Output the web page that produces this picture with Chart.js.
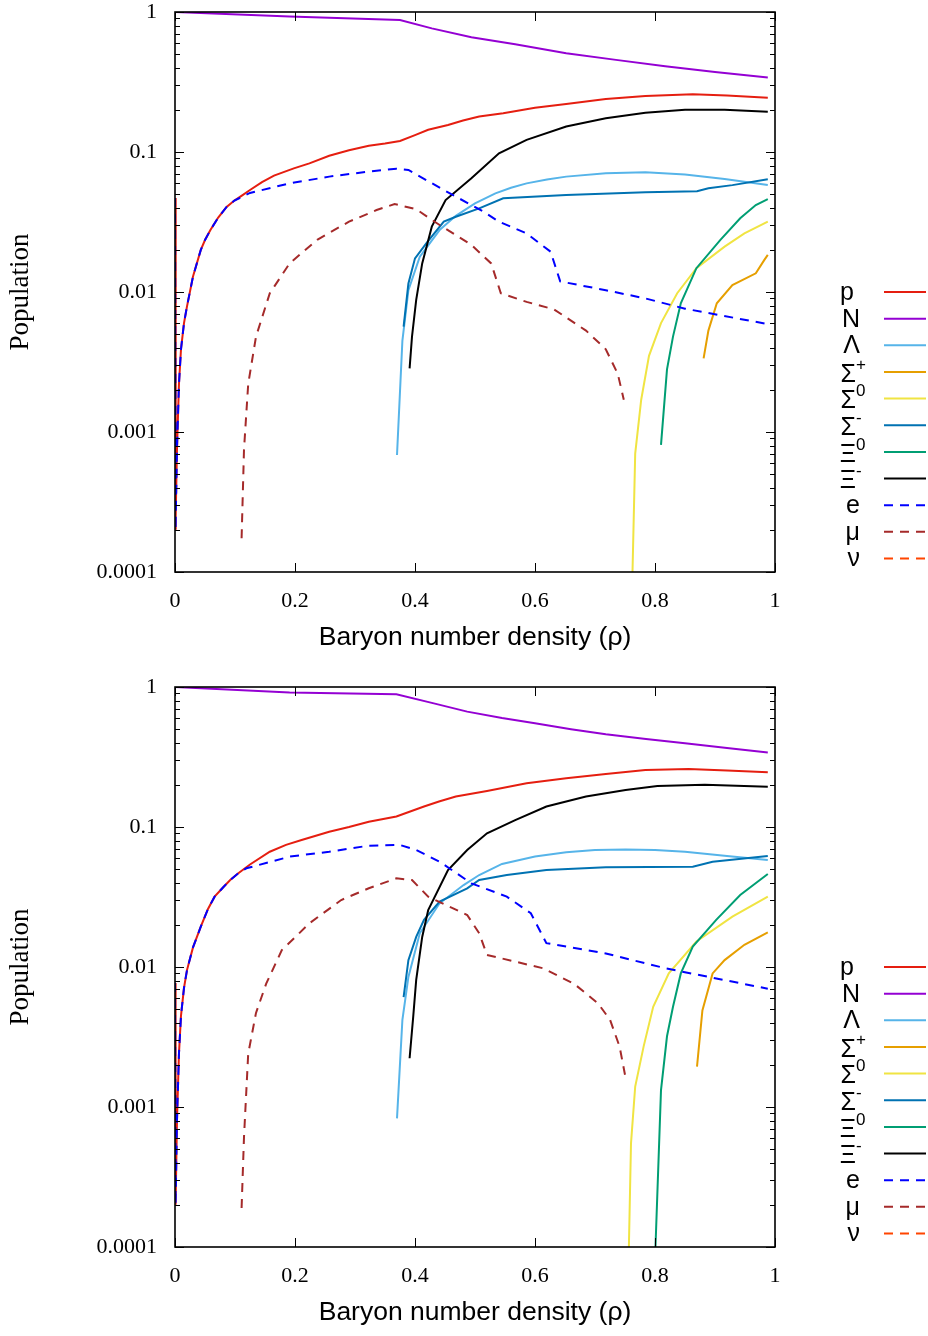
<!DOCTYPE html>
<html><head><meta charset="utf-8">
<script src="https://cdn.jsdelivr.net/npm/chart.js@4/dist/chart.umd.min.js"></script>
<style>html,body{margin:0;padding:0;background:#fff;}canvas{display:block;}</style>
</head><body>
<canvas id="c1" width="928" height="675"></canvas>
<canvas id="c2" width="928" height="661"></canvas>
<script>
// ---------- labels / ticks ----------
const seriesLabels = ['p','N','Λ','Σ⁺','Σ⁰','Σ⁻','Ξ⁰','Ξ⁻','e','μ','ν'];
const xTicks = [0,0.2,0.4,0.6,0.8,1];
const xTickLabels = ['0','0.2','0.4','0.6','0.8','1'];
const yTicks = [0.0001,0.001,0.01,0.1,1];
const yTickLabels = ['0.0001','0.001','0.01','0.1','1'];
const xTitle = 'Baryon number density (ρ)';
const yTitle = 'Population';

// ---------- top panel data [x, population] ----------
const topP   = [[0,0.047],[0.001,0.0002],[0.0013,0.00025],[0.0033,0.00075],[0.0066,0.0022],[0.01,0.0039],[0.015,0.006],[0.02,0.0079],[0.03,0.0129],[0.043,0.02],[0.05,0.0235],[0.059,0.0277],[0.072,0.034],[0.086,0.0405],[0.099,0.045],[0.112,0.049],[0.125,0.0535],[0.145,0.061],[0.165,0.0678],[0.198,0.0764],[0.224,0.083],[0.257,0.094],[0.29,0.103],[0.323,0.111],[0.35,0.115],[0.375,0.12],[0.4,0.132],[0.422,0.144],[0.455,0.156],[0.48,0.168],[0.507,0.179],[0.547,0.189],[0.6,0.207],[0.652,0.22],[0.718,0.239],[0.784,0.251],[0.863,0.258],[0.92,0.253],[0.988,0.244]];
const topN   = [[0,1],[0.191,0.927],[0.375,0.877],[0.428,0.764],[0.494,0.66],[0.567,0.588],[0.652,0.507],[0.735,0.455],[0.817,0.41],[0.9,0.373],[0.988,0.341]];
const topLam = [[0.37,0.000685],[0.379,0.0045],[0.389,0.0103],[0.408,0.0179],[0.441,0.0277],[0.468,0.035],[0.5,0.043],[0.534,0.0507],[0.56,0.0555],[0.586,0.0597],[0.62,0.0637],[0.652,0.0667],[0.718,0.0705],[0.784,0.0716],[0.85,0.0692],[0.916,0.0641],[0.988,0.0581]];
const topSp  = [[0.881,0.00336],[0.889,0.0053],[0.903,0.0083],[0.929,0.0112],[0.968,0.0136],[0.982,0.0169],[0.988,0.0184]];
const topS0  = [[0.762,0.00008],[0.767,0.0007],[0.777,0.0017],[0.79,0.0035],[0.81,0.006],[0.837,0.0098],[0.869,0.0148],[0.916,0.0211],[0.949,0.0262],[0.988,0.0318]];
const topSm  = [[0.381,0.00565],[0.389,0.0115],[0.4,0.0174],[0.421,0.0229],[0.448,0.0318],[0.468,0.0345],[0.507,0.0396],[0.547,0.0467],[0.652,0.0493],[0.784,0.0515],[0.87,0.0524],[0.889,0.055],[0.929,0.058],[0.988,0.0638]];
const topX0  = [[0.81,0.00081],[0.82,0.0028],[0.83,0.0048],[0.843,0.0083],[0.869,0.0148],[0.909,0.0236],[0.942,0.0336],[0.968,0.0418],[0.988,0.046]];
const topXm  = [[0.391,0.00285],[0.395,0.0048],[0.402,0.0088],[0.412,0.016],[0.428,0.0293],[0.451,0.0454],[0.494,0.0649],[0.54,0.098],[0.586,0.122],[0.652,0.152],[0.718,0.174],[0.784,0.191],[0.85,0.2],[0.916,0.2],[0.988,0.194]];
const topE   = [[0,0.047],[0.001,0.0002],[0.0013,0.00025],[0.0033,0.00075],[0.0066,0.0022],[0.01,0.0039],[0.015,0.006],[0.02,0.0079],[0.03,0.0129],[0.043,0.02],[0.05,0.0235],[0.059,0.0277],[0.072,0.034],[0.086,0.0405],[0.099,0.045],[0.125,0.051],[0.191,0.0597],[0.257,0.0667],[0.323,0.0724],[0.369,0.076],[0.389,0.0744],[0.448,0.0535],[0.514,0.0375],[0.54,0.0318],[0.586,0.0262],[0.626,0.0194],[0.642,0.0119],[0.718,0.0103],[0.784,0.009],[0.85,0.0076],[0.988,0.0059]];
const topMu  = [[0.111,0.000174],[0.115,0.00075],[0.122,0.0022],[0.135,0.0048],[0.158,0.0098],[0.191,0.016],[0.237,0.0236],[0.29,0.0318],[0.336,0.0385],[0.366,0.0425],[0.402,0.039],[0.441,0.0301],[0.494,0.0217],[0.527,0.016],[0.543,0.0098],[0.586,0.0085],[0.632,0.0075],[0.685,0.0053],[0.718,0.0039],[0.738,0.0026],[0.748,0.0017]];
const topNu  = [];

// ---------- bottom panel data [x, population] ----------
const botP   = [[0,0.0077],[0.001,0.0002],[0.0033,0.0008],[0.0066,0.0024],[0.01,0.0045],[0.015,0.0071],[0.02,0.0095],[0.03,0.0138],[0.043,0.0194],[0.055,0.026],[0.066,0.0318],[0.08,0.037],[0.092,0.0418],[0.105,0.0465],[0.125,0.054],[0.158,0.0666],[0.185,0.0745],[0.211,0.0807],[0.257,0.0926],[0.29,0.1],[0.323,0.109],[0.369,0.119],[0.415,0.14],[0.44,0.152],[0.468,0.165],[0.52,0.181],[0.586,0.205],[0.652,0.223],[0.718,0.239],[0.784,0.255],[0.856,0.26],[0.92,0.253],[0.988,0.246]];
const botN   = [[0,1],[0.191,0.912],[0.369,0.887],[0.428,0.77],[0.487,0.667],[0.545,0.6],[0.6,0.55],[0.66,0.5],[0.718,0.459],[0.785,0.425],[0.85,0.396],[0.92,0.366],[0.988,0.341]];
const botLam = [[0.37,0.00083],[0.379,0.0042],[0.389,0.0085],[0.408,0.0174],[0.441,0.0285],[0.481,0.0385],[0.507,0.0454],[0.545,0.0545],[0.6,0.0615],[0.652,0.066],[0.7,0.0685],[0.751,0.069],[0.8,0.0685],[0.85,0.0666],[0.92,0.062],[0.988,0.0581]];
const botSp  = [[0.87,0.00194],[0.879,0.0049],[0.896,0.009],[0.916,0.0112],[0.949,0.0144],[0.988,0.0177]];
const botS0  = [[0.756,0.00008],[0.76,0.00055],[0.767,0.0014],[0.781,0.0027],[0.797,0.0052],[0.823,0.009],[0.869,0.0152],[0.929,0.0229],[0.988,0.0318]];
const botSm  = [[0.381,0.0061],[0.389,0.0112],[0.402,0.0164],[0.415,0.0217],[0.441,0.0293],[0.487,0.0365],[0.507,0.0418],[0.553,0.0454],[0.619,0.0493],[0.718,0.0515],[0.863,0.052],[0.896,0.0565],[0.988,0.062]];
const botX0  = [[0.8,0.00008],[0.81,0.00132],[0.82,0.0032],[0.83,0.0052],[0.843,0.009],[0.863,0.014],[0.902,0.0217],[0.942,0.0327],[0.988,0.0462]];
const botXm  = [[0.391,0.00223],[0.397,0.0044],[0.402,0.0081],[0.412,0.0164],[0.422,0.0255],[0.455,0.0493],[0.487,0.0685],[0.52,0.0902],[0.567,0.112],[0.619,0.14],[0.685,0.165],[0.751,0.184],[0.804,0.196],[0.883,0.2],[0.988,0.194]];
const botE   = [[0,0.0077],[0.001,0.0002],[0.0033,0.0008],[0.0066,0.0024],[0.01,0.0045],[0.015,0.0071],[0.02,0.0095],[0.03,0.0138],[0.043,0.0194],[0.055,0.026],[0.066,0.0318],[0.08,0.037],[0.092,0.0418],[0.105,0.0465],[0.119,0.0507],[0.191,0.0614],[0.257,0.0666],[0.323,0.0736],[0.375,0.0744],[0.402,0.0685],[0.441,0.0565],[0.494,0.0396],[0.553,0.0318],[0.593,0.0242],[0.619,0.0148],[0.718,0.0125],[0.817,0.0098],[0.988,0.007]];
const botMu  = [[0.111,0.00019],[0.115,0.00061],[0.122,0.0024],[0.135,0.0047],[0.152,0.0076],[0.178,0.0132],[0.224,0.0205],[0.277,0.0301],[0.323,0.0365],[0.369,0.043],[0.395,0.0418],[0.422,0.0318],[0.487,0.0235],[0.507,0.0174],[0.52,0.0122],[0.613,0.0098],[0.665,0.0076],[0.705,0.0055],[0.725,0.0042],[0.741,0.0027],[0.75,0.0017]];
const botNu  = [];

// ---------- styles ----------
const lineColors = ['#e51e10','#9400d3','#56b4e9','#e69f00','#f0e442','#0072b2','#009e73','#000000','#0000ff','#a52a2a','#ff4500'];
const lineDash   = [[],[],[],[],[],[],[],[],[9,7],[9,7],[9,7]];
const SERIF = '"Liberation Serif", "Times New Roman", serif';
const SANS  = '"Liberation Sans", Arial, sans-serif';

const supMap = {'⁺':'+','⁰':'0','⁻':'-'};

const framePlugin = {
  id: 'frame',
  afterDatasetsDraw(chart) {
    const {ctx, chartArea: a, scales: {x, y}} = chart;
    ctx.save();
    ctx.strokeStyle = '#000';
    ctx.lineWidth = 1;
    ctx.setLineDash([]);
    ctx.beginPath();
    xTicks.forEach(v => {
      const px = Math.round(x.getPixelForValue(v)) + 0.5;
      ctx.moveTo(px, a.bottom); ctx.lineTo(px, a.bottom - 9);
      ctx.moveTo(px, a.top); ctx.lineTo(px, a.top + 9);
    });
    yTicks.forEach((d, i) => {
      const py = Math.round(y.getPixelForValue(d)) + 0.5;
      ctx.moveTo(a.left, py); ctx.lineTo(a.left + 9, py);
      ctx.moveTo(a.right, py); ctx.lineTo(a.right - 9, py);
      if (i < yTicks.length - 1) {
        for (let k = 2; k <= 9; k++) {
          const pm = Math.round(y.getPixelForValue(d * k)) + 0.5;
          ctx.moveTo(a.left, pm); ctx.lineTo(a.left + 5, pm);
          ctx.moveTo(a.right, pm); ctx.lineTo(a.right - 5, pm);
        }
      }
    });
    ctx.stroke();
    ctx.lineWidth = 1.6;
    ctx.strokeRect(a.left, a.top, a.right - a.left, a.bottom - a.top);
    ctx.restore();
  },
  afterDraw(chart) {
    const {ctx, chartArea: a} = chart;
    ctx.save();
    chart.data.datasets.forEach((ds, i) => {
      const yy = a.top + 280 + i * 26.65;
      ctx.strokeStyle = ds.borderColor;
      ctx.lineWidth = 2;
      ctx.setLineDash(ds.borderDash || []);
      ctx.beginPath();
      ctx.moveTo(884, yy); ctx.lineTo(926, yy);
      ctx.stroke();
      ctx.setLineDash([]);
      const lab = ds.label;
      const last = lab.slice(-1);
      ctx.fillStyle = '#000';
      ctx.textBaseline = 'middle';
      if (supMap[last]) {
        const base = lab.slice(0, -1);
        ctx.font = '25px ' + SANS;
        ctx.textAlign = 'right';
        ctx.fillText(base, 856, yy + 3);
        ctx.font = '17px ' + SANS;
        ctx.textAlign = 'left';
        ctx.fillText(supMap[last], 856, yy - 7);
      } else {
        ctx.font = '25px ' + SANS;
        ctx.textAlign = 'right';
        ctx.fillText(lab, lab === 'p' ? 854 : 860, yy + 1);
      }
    });
    ctx.restore();
  }
};

function makeChart(id, series, xAxisHeight, titlePadBottom) {
  const datasets = series.map((arr, i) => ({
    label: seriesLabels[i],
    data: arr.map(p => ({x: p[0], y: p[1]})),
    borderColor: lineColors[i],
    backgroundColor: lineColors[i],
    borderDash: lineDash[i],
    borderWidth: 2,
    pointRadius: 0,
    showLine: true,
    fill: false,
    tension: 0,
    order: series.length - i
  }));
  return new Chart(document.getElementById(id), {
    type: 'scatter',
    data: {datasets},
    plugins: [framePlugin],
    options: {
      responsive: false,
      devicePixelRatio: 1,
      animation: false,
      layout: {padding: {top: 12, right: 153, bottom: 0, left: 0}},
      plugins: {legend: {display: false}, tooltip: {enabled: false}},
      scales: {
        x: {
          type: 'linear', min: 0, max: 1,
          grid: {display: false, drawTicks: false},
          border: {display: false},
          afterBuildTicks: s => { s.ticks = xTicks.map(v => ({value: v})); },
          afterFit: s => { s.height = xAxisHeight; s.paddingLeft = 0; s.paddingRight = 0; },
          ticks: {autoSkip: false, maxRotation: 0, padding: 16, color: '#000',
                  font: {family: SERIF, size: 22},
                  callback: (v, i) => xTickLabels[i]},
          title: {display: true, text: xTitle, color: '#000',
                  font: {family: SANS, size: 26.5},
                  padding: {top: 0, bottom: titlePadBottom}}
        },
        y: {
          type: 'logarithmic', min: 0.0001, max: 1,
          grid: {display: false, drawTicks: false},
          border: {display: false},
          afterBuildTicks: s => { s.ticks = yTicks.map(v => ({value: v})); },
          afterFit: s => { s.width = 175; s.paddingTop = 0; s.paddingBottom = 0; },
          ticks: {autoSkip: false, padding: 18, color: '#000',
                  font: {family: SERIF, size: 22},
                  callback: (v, i) => yTickLabels[i]},
          title: {display: true, text: yTitle, color: '#000',
                  font: {family: SERIF, size: 27},
                  padding: {top: 5, bottom: 0}}
        }
      }
    }
  });
}

makeChart('c1', [topP, topN, topLam, topSp, topS0, topSm, topX0, topXm, topE, topMu, topNu], 103, 21);
makeChart('c2', [botP, botN, botLam, botSp, botS0, botSm, botX0, botXm, botE, botMu, botNu], 89, 7);
</script>
</body></html>
